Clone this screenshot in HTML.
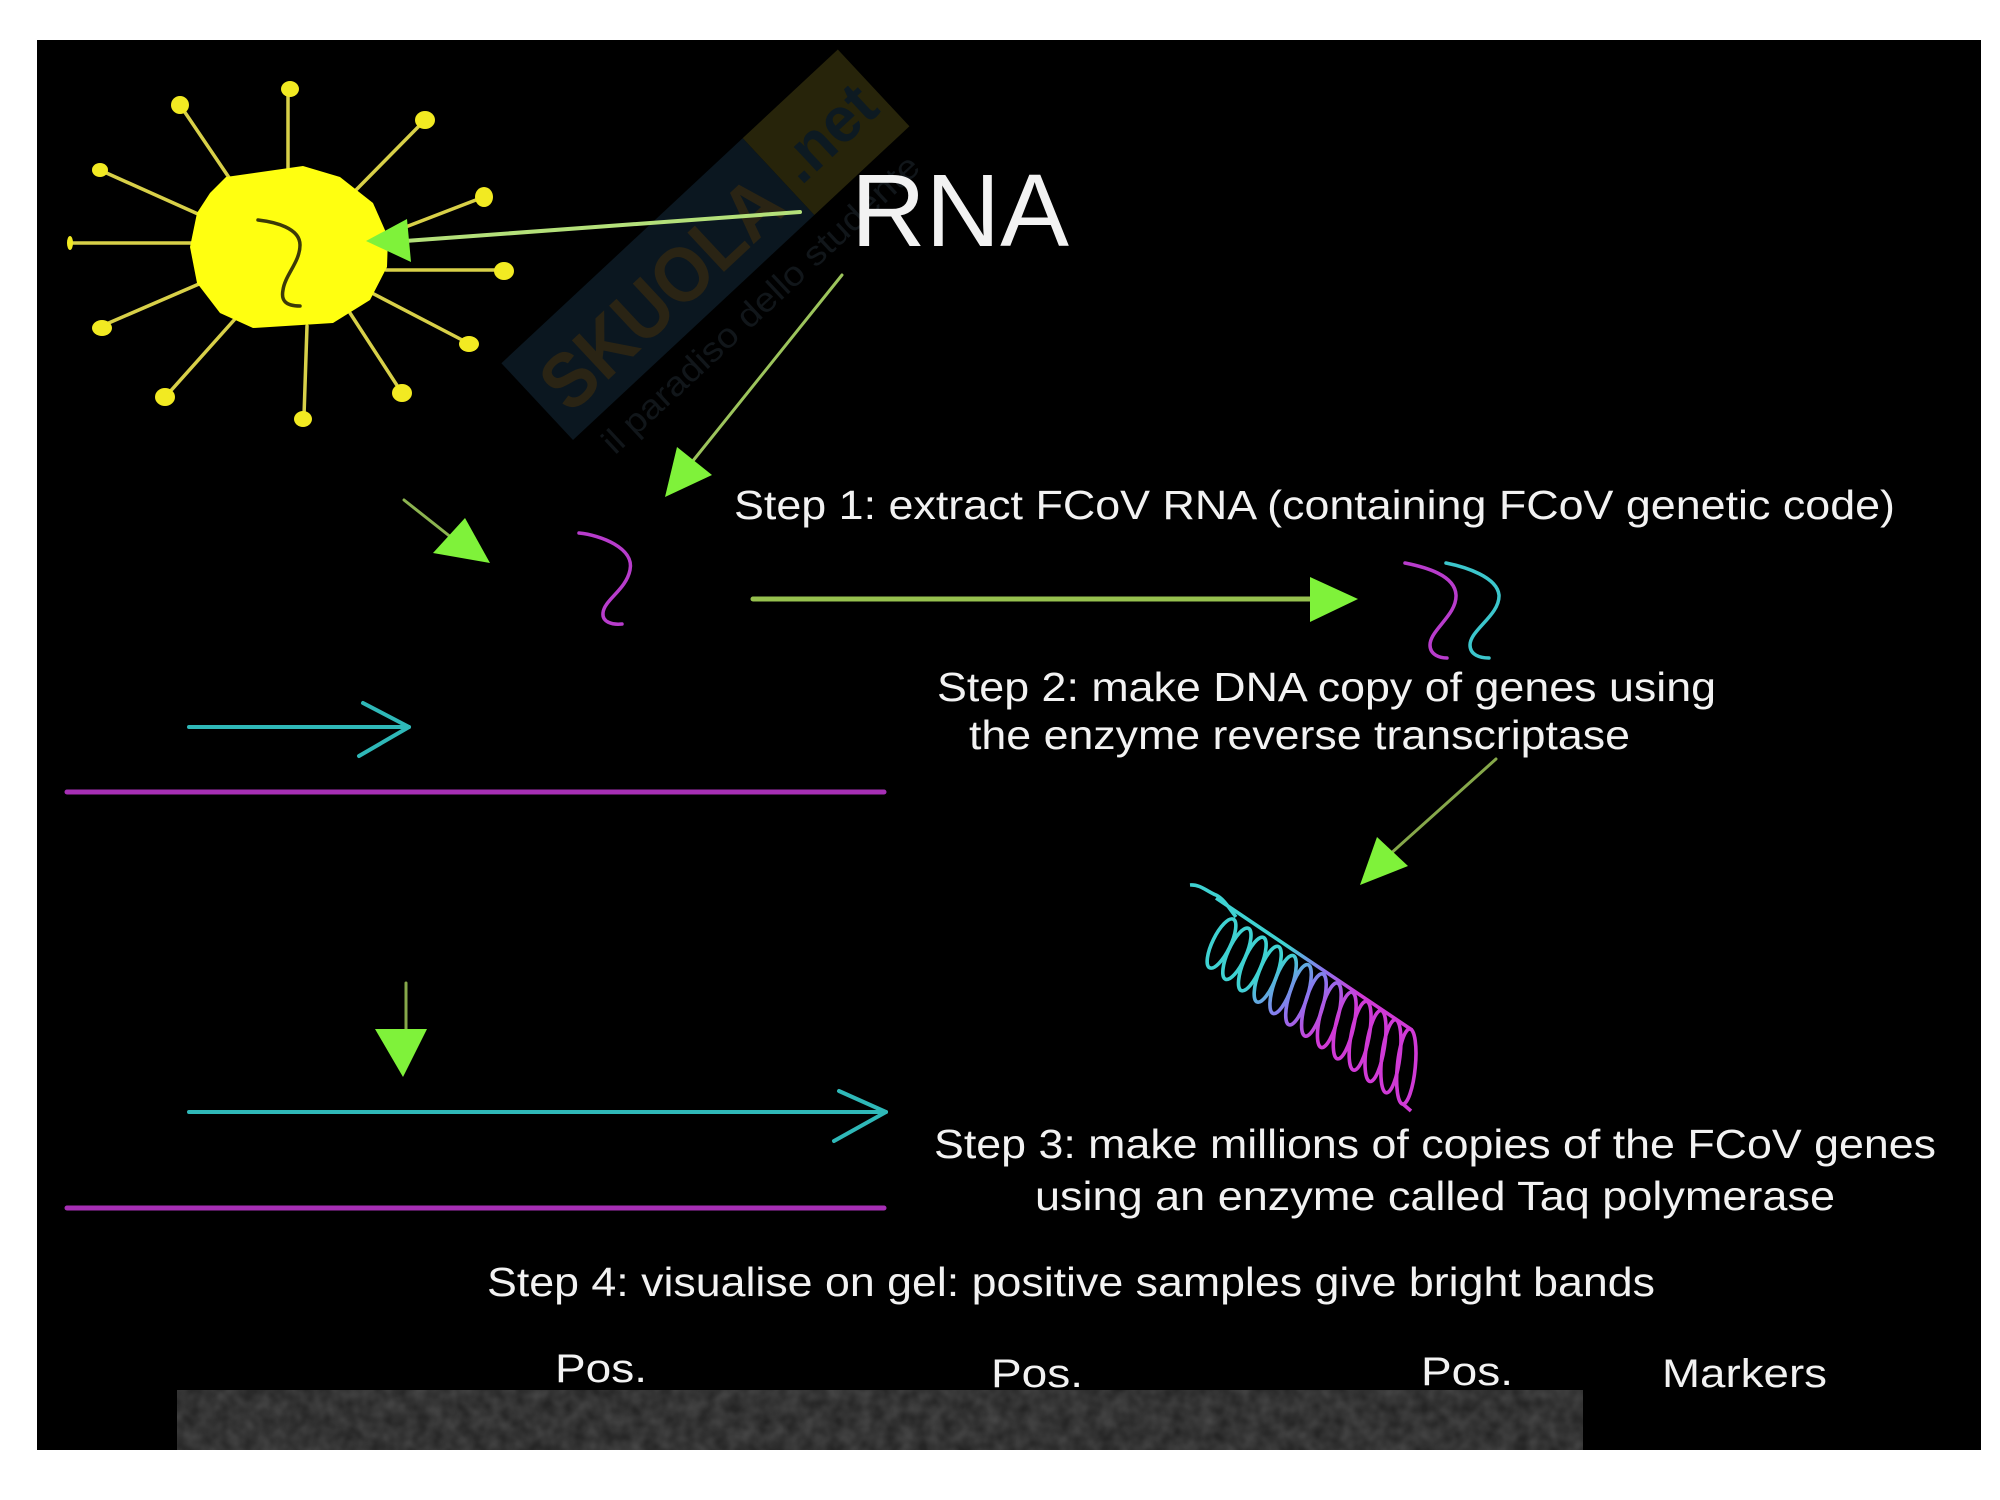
<!DOCTYPE html>
<html>
<head>
<meta charset="utf-8">
<style>
  html, body { margin: 0; padding: 0; background: #ffffff; }
  svg { display: block; }
  .t { font-family: "Liberation Sans", Arial, sans-serif; fill: #f2f2f2; }
</style>
</head>
<body>
<svg width="2000" height="1500" viewBox="0 0 2000 1500" xmlns="http://www.w3.org/2000/svg">
  <defs>
    <linearGradient id="hx" gradientUnits="userSpaceOnUse" x1="1275" y1="960" x2="1345" y2="1012">
      <stop offset="0" stop-color="#3fd2d2"/>
      <stop offset="0.5" stop-color="#8a78f0"/>
      <stop offset="1" stop-color="#d03ad6"/>
    </linearGradient>
    <filter id="noise" x="0" y="0" width="100%" height="100%">
      <feTurbulence type="fractalNoise" baseFrequency="0.07" numOctaves="2" seed="3" result="n"/>
      <feColorMatrix type="matrix" values="0 0 0 0 0.26  0 0 0 0 0.26  0 0 0 0 0.26  0 0 0 0.7 -0.1" in="n" result="g"/>
      <feComposite in="g" in2="SourceGraphic" operator="in"/>
    </filter>
  </defs>

  <rect x="0" y="0" width="2000" height="1500" fill="#ffffff"/>
  <rect x="37" y="40" width="1944" height="1410" fill="#000000"/>

  <!-- watermark -->
  <g transform="translate(573,440) rotate(-43)">
    <rect x="0" y="-105" width="330" height="105" fill="#0b1720"/>
    <rect x="330" y="-105" width="130" height="105" fill="#27240a"/>
    <text x="15" y="-20" font-family="Liberation Sans, Arial, sans-serif" font-weight="bold" font-size="78" fill="#2a2414" textLength="300" lengthAdjust="spacingAndGlyphs">SKUOLA</text>
    <text x="340" y="-30" font-family="Liberation Sans, Arial, sans-serif" font-weight="bold" font-size="64" fill="#0d1a22" textLength="110" lengthAdjust="spacingAndGlyphs">.net</text>
    <text x="20" y="40" font-family="Liberation Sans, Arial, sans-serif" font-size="34" fill="#11161a" textLength="420" lengthAdjust="spacingAndGlyphs">il paradiso dello studente</text>
  </g>

  <!-- sun spikes -->
  <g stroke="#d8d048" stroke-width="3.5" stroke-linecap="round">
    <line x1="288" y1="170" x2="288" y2="92"/>
    <line x1="232" y1="182" x2="182" y2="108"/>
    <line x1="356" y1="190" x2="423" y2="122"/>
    <line x1="198" y1="214" x2="102" y2="171"/>
    <line x1="390" y1="233" x2="481" y2="198"/>
    <line x1="192" y1="243" x2="72" y2="243"/>
    <line x1="386" y1="270" x2="501" y2="270"/>
    <line x1="199" y1="284" x2="104" y2="325"/>
    <line x1="370" y1="292" x2="466" y2="342"/>
    <line x1="235" y1="319" x2="167" y2="395"/>
    <line x1="350" y1="313" x2="400" y2="390"/>
    <line x1="307" y1="326" x2="304" y2="416"/>
  </g>
  <g fill="#f2ea22">
    <ellipse cx="290" cy="89" rx="9" ry="8"/>
    <ellipse cx="180" cy="105" rx="9" ry="9"/>
    <ellipse cx="425" cy="120" rx="10" ry="9"/>
    <ellipse cx="100" cy="170" rx="8" ry="7"/>
    <ellipse cx="484" cy="197" rx="9" ry="10"/>
    <ellipse cx="70" cy="243" rx="3" ry="7"/>
    <ellipse cx="504" cy="271" rx="10" ry="9"/>
    <ellipse cx="102" cy="328" rx="10" ry="8"/>
    <ellipse cx="469" cy="344" rx="10" ry="8"/>
    <ellipse cx="165" cy="397" rx="10" ry="9"/>
    <ellipse cx="402" cy="393" rx="10" ry="9"/>
    <ellipse cx="303" cy="419" rx="9" ry="8"/>
  </g>
  <!-- sun body -->
  <polygon fill="#ffff10" points="226,177 303,166 340,177 373,203 388,237 387,267 370,300 333,323 253,328 220,313 197,283 190,247 197,213 210,193"/>
  <path d="M258,220 C275,222 300,228 300,245 C300,262 285,275 283,290 C281,300 285,306 300,306" fill="none" stroke="#3c3a08" stroke-width="3.5" stroke-linecap="round"/>

  <!-- RNA -->
  <text class="t" x="851" y="246" font-size="103" textLength="218" lengthAdjust="spacingAndGlyphs">RNA</text>

  <!-- green arrows -->
  <g stroke-linecap="round" fill="none">
    <line x1="800" y1="212" x2="405" y2="241" stroke="#b4e07a" stroke-width="4"/>
    <line x1="842" y1="275" x2="692" y2="462" stroke="#9cc45c" stroke-width="3"/>
    <line x1="404" y1="500" x2="452" y2="538" stroke="#8cb450" stroke-width="3"/>
    <line x1="753" y1="599" x2="1315" y2="599" stroke="#96c04e" stroke-width="5"/>
    <line x1="1496" y1="759" x2="1388" y2="856" stroke="#86a84a" stroke-width="3"/>
    <line x1="406" y1="983" x2="406" y2="1032" stroke="#86a84a" stroke-width="3"/>
  </g>
  <g fill="#7ff23a">
    <polygon points="366,241 407,219 411,262"/>
    <polygon points="665,497 677,447 712,475"/>
    <polygon points="490,563 433,553 465,518"/>
    <polygon points="1358,599 1310,577 1310,622"/>
    <polygon points="1360,885 1377,837 1408,866"/>
    <polygon points="403,1077 375,1029 427,1029"/>
  </g>

  <!-- squiggles -->
  <g fill="none" stroke-width="3.5" stroke-linecap="round">
    <path d="M579,533 C600,535 635,548 630,570 C626,590 604,600 603,613 C602,622 612,625 622,624" stroke="#b83ccc"/>
    <path d="M1405,563 C1425,567 1455,575 1456,595 C1457,615 1430,630 1430,645 C1430,655 1440,658 1447,658" stroke="#b83ccc"/>
    <path d="M1446,563 C1466,567 1497,577 1499,595 C1500,615 1470,630 1470,645 C1470,655 1480,658 1489,658" stroke="#3cc6cc"/>
  </g>

  <!-- cyan arrows and magenta lines -->
  <g fill="none" stroke="#2fb8b8" stroke-width="4" stroke-linecap="round" stroke-linejoin="round">
    <line x1="189" y1="727" x2="409" y2="727"/>
    <polyline points="363,703 409,727 359,756"/>
    <line x1="189" y1="1112" x2="886" y2="1112"/>
    <polyline points="839,1091 886,1112 834,1141"/>
  </g>
  <g stroke="#a62fb5" stroke-width="5" stroke-linecap="round">
    <line x1="67" y1="792" x2="884" y2="792"/>
    <line x1="67" y1="1208" x2="884" y2="1208"/>
  </g>

  <!-- helix -->
  <g fill="none" stroke="url(#hx)" stroke-width="3.6">
    <path d="M1190,885 C1200,884 1208,892 1216,895 C1224,899 1229,908 1236,917" stroke="#3fd2d2"/>
    <line x1="1216" y1="898" x2="1412" y2="1030"/>
    <ellipse cx="1221.5" cy="943.5" rx="9" ry="27.0" transform="rotate(26.0 1221.5 943.5)"/>
    <ellipse cx="1236.9" cy="953.75" rx="9" ry="27.9" transform="rotate(24.3 1236.9 953.75)"/>
    <ellipse cx="1252.3" cy="964.0" rx="9" ry="28.8" transform="rotate(22.6 1252.3 964.0)"/>
    <ellipse cx="1267.7" cy="974.25" rx="9" ry="29.7" transform="rotate(20.9 1267.7 974.25)"/>
    <ellipse cx="1283.1" cy="984.5" rx="9" ry="30.6" transform="rotate(19.2 1283.1 984.5)"/>
    <ellipse cx="1298.5" cy="994.75" rx="9" ry="31.5" transform="rotate(17.5 1298.5 994.75)"/>
    <ellipse cx="1313.9" cy="1005.0" rx="9" ry="32.3" transform="rotate(15.7 1313.9 1005.0)"/>
    <ellipse cx="1329.3" cy="1015.25" rx="9" ry="33.2" transform="rotate(14.0 1329.3 1015.25)"/>
    <ellipse cx="1344.7" cy="1025.5" rx="9" ry="34.1" transform="rotate(12.3 1344.7 1025.5)"/>
    <ellipse cx="1360.1" cy="1035.75" rx="9" ry="35.0" transform="rotate(10.6 1360.1 1035.75)"/>
    <ellipse cx="1375.5" cy="1046.0" rx="9" ry="35.9" transform="rotate(8.9 1375.5 1046.0)"/>
    <ellipse cx="1390.9" cy="1056.25" rx="9" ry="36.8" transform="rotate(7.2 1390.9 1056.25)"/>
    <ellipse cx="1406.3" cy="1066.5" rx="9" ry="37.7" transform="rotate(5.5 1406.3 1066.5)"/>
    <path d="M1403,1104 L1411,1111" stroke="#d03ad6"/>
  </g>

  <!-- step texts -->
  <text class="t" x="734" y="519" font-size="41" textLength="1161" lengthAdjust="spacingAndGlyphs">Step 1: extract FCoV RNA (containing FCoV genetic code)</text>
  <text class="t" x="937" y="701" font-size="41" textLength="779" lengthAdjust="spacingAndGlyphs">Step 2: make DNA copy of genes using</text>
  <text class="t" x="969" y="749" font-size="41" textLength="661" lengthAdjust="spacingAndGlyphs">the enzyme reverse transcriptase</text>
  <text class="t" x="934" y="1158" font-size="41" textLength="1002" lengthAdjust="spacingAndGlyphs">Step 3: make millions of copies of the FCoV genes</text>
  <text class="t" x="1035" y="1210" font-size="41" textLength="800" lengthAdjust="spacingAndGlyphs">using an enzyme called Taq polymerase</text>
  <text class="t" x="487" y="1296" font-size="41" textLength="1168" lengthAdjust="spacingAndGlyphs">Step 4: visualise on gel: positive samples give bright bands</text>

  <text class="t" x="555" y="1382" font-size="40" textLength="92" lengthAdjust="spacingAndGlyphs">Pos.</text>
  <text class="t" x="991" y="1387" font-size="40" textLength="92" lengthAdjust="spacingAndGlyphs">Pos.</text>
  <text class="t" x="1421" y="1385" font-size="40" textLength="92" lengthAdjust="spacingAndGlyphs">Pos.</text>
  <text class="t" x="1662" y="1387" font-size="40" textLength="165" lengthAdjust="spacingAndGlyphs">Markers</text>

  <!-- gel strip -->
  <rect x="177" y="1390" width="1406" height="60" fill="#252525"/>
  <rect x="177" y="1390" width="1406" height="60" fill="#2c2c2c" filter="url(#noise)" opacity="0.6"/>
</svg>
</body>
</html>
